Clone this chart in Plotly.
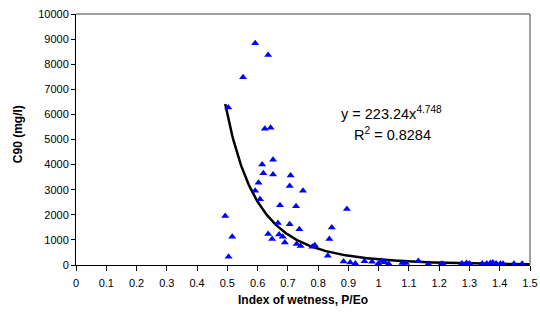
import numpy as np
import plotly.graph_objects as go

# Observed data: index of wetness (P/Eo) vs C90 (mg/l)
wetness = [0.592, 0.635, 0.552, 0.503, 0.624, 0.643, 0.615, 0.651, 0.619, 0.651,
           0.709, 0.603, 0.706, 0.750, 0.592, 0.608, 0.674, 0.727, 0.895, 0.493,
           0.667, 0.706, 0.845, 0.738, 0.635, 0.671, 0.683, 0.516, 0.648, 0.837,
           0.690, 0.729, 0.742, 0.781, 0.789, 0.504, 0.832, 0.884, 0.906, 0.923,
           0.953, 0.978, 0.999, 1.010, 1.020, 1.033, 1.078, 1.090, 1.131, 1.164,
           1.208, 1.213, 1.275, 1.290, 1.300, 1.342, 1.357, 1.369, 1.377, 1.388,
           1.402, 1.411, 1.447, 1.474]
c90 = [8830, 8370, 7480, 6270, 5430, 5470, 4000, 4190, 3660, 3610,
       3570, 3280, 3150, 2960, 2960, 2620, 2380, 2340, 2230, 1950,
       1670, 1620, 1490, 1420, 1240, 1220, 1130, 1130, 1040, 1040,
       900, 840, 760, 730, 790, 330, 370, 140, 100, 60,
       150, 130, 60, 160, 110, 50, 80, 80, 160, 40,
       50, 40, 60, 80, 60, 60, 60, 80, 100, 60,
       50, 50, 50, 50]

# Power trendline as displayed on the chart
trend_a = 223.24
trend_b = -4.748
trend_x_start = 0.493
trend_x_end = 1.5

x_ticks = [round(i * 0.1, 1) for i in range(16)]
x_tick_labels = ["0", "0.1", "0.2", "0.3", "0.4", "0.5", "0.6", "0.7", "0.8", "0.9",
                 "1", "1.1", "1.2", "1.3", "1.4", "1.5"]
y_ticks = list(range(0, 10001, 1000))
y_tick_labels = [str(v) for v in y_ticks]

tx = np.linspace(trend_x_start, trend_x_end, 300)
ty = trend_a * tx ** trend_b

font_family = "Liberation Sans, Arial, sans-serif"

fig = go.Figure()
fig.add_trace(go.Scatter(
    x=tx, y=ty, mode="lines",
    line=dict(color="black", width=2.5),
    hoverinfo="skip", showlegend=False,
))
fig.add_trace(go.Scatter(
    x=wetness, y=c90, mode="markers",
    marker=dict(symbol="triangle-up", size=7, color="#0000FF", line=dict(width=0)),
    showlegend=False,
))

fig.update_layout(
    width=540, height=320,
    margin=dict(l=76, r=10, t=14, b=55),
    paper_bgcolor="white", plot_bgcolor="white",
    font=dict(family=font_family, size=11, color="black"),
    shapes=[
        dict(type="line", xref="paper", yref="paper", x0=0, x1=1, y0=1, y1=1,
             line=dict(color="#808080", width=1.5)),
        dict(type="line", xref="paper", yref="paper", x0=1, x1=1, y0=0, y1=1,
             line=dict(color="#808080", width=1.5)),
    ],
    annotations=[
        dict(x=0.696, y=6050, xref="paper", yref="y",
             text="y = 223.24x<sup>4.748</sup>", showarrow=False,
             font=dict(size=14.5, family=font_family), xanchor="center", yanchor="middle"),
        dict(x=0.697, y=5200, xref="paper", yref="y",
             text="R<sup>2</sup> = 0.8284", showarrow=False,
             font=dict(size=14.5, family=font_family), xanchor="center", yanchor="middle"),
        dict(x=0.5, y=-0.139, xref="paper", yref="paper", yanchor="middle",
             text="<b>Index of wetness, P/Eo</b>", showarrow=False,
             font=dict(size=12, family=font_family)),
        dict(x=-0.146, y=0.52, xref="paper", yref="paper", textangle=-90,
             text="<b>C90 (mg/l)</b>", showarrow=False,
             font=dict(size=12, family=font_family)),
    ],
)
fig.update_xaxes(
    range=[0, 1.5], tickvals=x_ticks, ticktext=x_tick_labels,
    ticks="outside", ticklen=5, tickcolor="black", ticklabelstandoff=3,
    showline=True, linecolor="black", linewidth=1,
    showgrid=False, zeroline=False, automargin=False,
)
fig.update_yaxes(
    range=[0, 10000], tickvals=y_ticks, ticktext=y_tick_labels,
    ticks="outside", ticklen=4, tickcolor="black",
    showline=True, linecolor="black", linewidth=1,
    showgrid=False, zeroline=False, automargin=False,
)

fig.write_html("out.html", config={"displayModeBar": False},
               post_script="document.body.style.margin='0';")
